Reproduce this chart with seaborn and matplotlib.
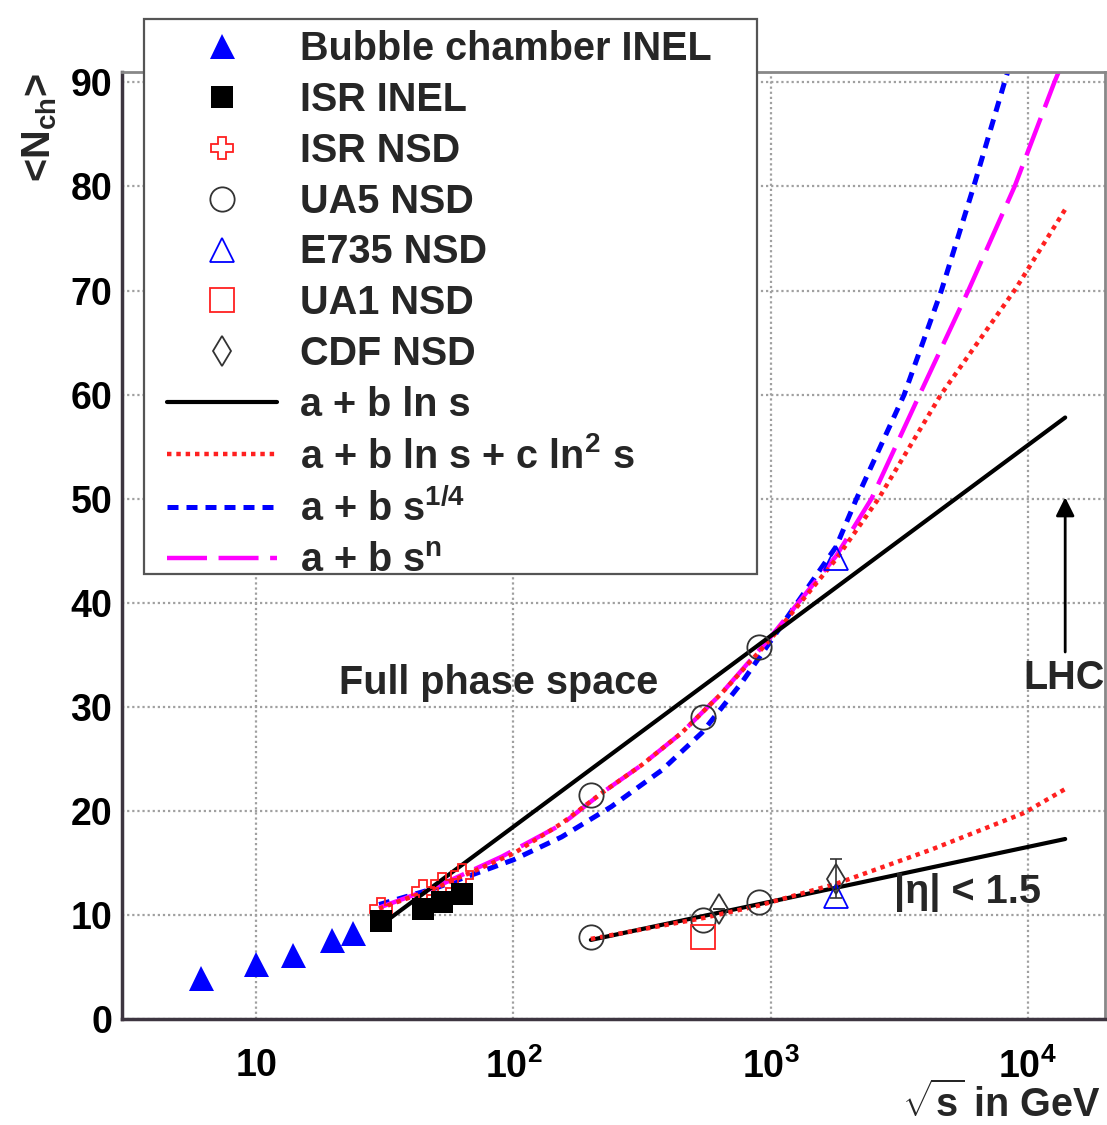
import numpy as np
import matplotlib
matplotlib.use("Agg")
import matplotlib.pyplot as plt
import matplotlib.ticker as ticker
from matplotlib.lines import Line2D
from matplotlib.patches import Rectangle
import seaborn as sns

# measured points: sqrt(s) in GeV, <Nch>
bubble_x = [6.1, 10.0, 13.9, 19.7, 23.8]
bubble_y = [3.9, 5.3, 6.2, 7.6, 8.3]
isr_x = [30.4, 44.5, 52.6, 62.8]
isr_inel_y = [9.4, 10.6, 11.2, 12.0]
isr_nsd_y = [10.6, 12.3, 13.0, 13.8]
ua5_x = [200, 546, 900]
ua5_full_y = [21.5, 29.0, 35.7]
ua5_eta_y = [7.9, 9.5, 11.2]
e735_x = [1800, 1800]
e735_y = [44.3, 11.8]
ua1_x = [546]
ua1_y = [7.9]
cdf_x = [630, 1800]
cdf_y = [10.6, 13.5]
cdf_err = [0.0, 1.9]

# fits, full phase space
lns_x = [30, 14000]
lns_y = [8.9, 57.8]
ln2s_x = [30, 50, 100, 154, 220, 315, 451, 645, 1000, 1800, 2630, 4600, 9000, 14000]
ln2s_y = [10.6, 12.6, 15.9, 18.8, 21.7, 24.4, 27.5, 31.3, 36.5, 44.2, 50.0, 60.0, 70.2, 77.8]
s14_x = [30, 50, 100, 154, 240, 377, 540, 771, 1000, 1800, 2160, 3310, 4620, 6170, 8130, 8600]
s14_y = [11.0, 12.6, 15.3, 17.5, 20.4, 23.9, 27.5, 32.3, 36.3, 45.4, 50.0, 60.0, 70.0, 80.0, 90.0, 92.0]
sn_x = [30, 50, 90, 154, 220, 315, 451, 645, 1000, 1800, 2470, 3800, 5880, 8900, 12700, 14000]
sn_y = [10.7, 12.7, 15.6, 18.7, 21.7, 24.4, 27.5, 31.3, 36.7, 44.5, 50.0, 60.0, 70.0, 80.0, 90.0, 92.5]

# fits, |eta| < 1.5
eta_lns_x = [200, 14000]
eta_lns_y = [7.6, 17.3]
eta_ln2s_x = [200, 546, 900, 1800, 4240, 9680, 14000]
eta_ln2s_y = [7.7, 9.7, 10.9, 13.0, 16.3, 19.8, 22.1]

x_ticks = [10, 100, 1000, 10000]
x_tick_labels = ["$10$", "$10^{2}$", "$10^{3}$", "$10^{4}$"]
y_ticks = [0, 10, 20, 30, 40, 50, 60, 70, 80, 90]

sns.set_theme(style="white")
plt.rcParams["font.family"] = ["Liberation Sans", "DejaVu Sans"]
plt.rcParams["font.weight"] = "bold"
plt.rcParams["mathtext.fontset"] = "custom"
plt.rcParams["mathtext.rm"] = "Liberation Sans:bold"
plt.rcParams["mathtext.it"] = "Liberation Sans:bold"
plt.rcParams["mathtext.bf"] = "Liberation Sans:bold"

FS = 28.5      # legend / annotation text
FS_TICK = 27
RED = "#ff2020"
dark = "#3d3540"

fig = plt.figure(figsize=(11.07, 11.25), dpi=100)
ax = fig.add_axes([0.1102, 0.0942, 0.888, 0.8418])

# fit curves
sty_lns = dict(color="black", lw=3, linestyle="-")
sty_ln2s = dict(color=RED, lw=3.2, linestyle=(0, (1, 1.1)))
sty_s14 = dict(color="blue", lw=3.6, linestyle=(0, (2.2, 1.6)))
sty_sn = dict(color="magenta", lw=3.2, linestyle=(0, (9, 2.6)))

sns.lineplot(x=s14_x, y=s14_y, ax=ax, **sty_s14)
sns.lineplot(x=sn_x, y=sn_y, ax=ax, **sty_sn)
sns.lineplot(x=ln2s_x, y=ln2s_y, ax=ax, **sty_ln2s)
sns.lineplot(x=lns_x, y=lns_y, ax=ax, **sty_lns)
sns.lineplot(x=eta_lns_x, y=eta_lns_y, ax=ax, **sty_lns)
sns.lineplot(x=eta_ln2s_x, y=eta_ln2s_y, ax=ax, **sty_ln2s)


def mk(marker, color, size, filled, ew=1.3):
    return dict(marker=marker, color=color, markersize=size,
                markerfacecolor=color if filled else "none",
                markeredgecolor=color, markeredgewidth=0 if filled else ew)


# data markers
m_bubble = mk("^", "blue", 18, True)
m_isr_inel = mk("s", "black", 16.5, True)
m_isr_nsd = mk("P", RED, 15.5, False)
m_ua5 = mk("o", "#333333", 17.5, False)
m_e735 = mk("^", "blue", 17, False)
m_ua1 = mk("s", RED, 17, False)
m_cdf = mk("d", "#333333", 15.5, False)

ax.errorbar(cdf_x, cdf_y, yerr=cdf_err, fmt="none", ecolor="#333333", elinewidth=1.2,
            capsize=4, capthick=1.2, zorder=3)
sns.lineplot(x=isr_x, y=isr_nsd_y, ax=ax, linestyle="none", **m_isr_nsd)
sns.lineplot(x=isr_x, y=isr_inel_y, ax=ax, linestyle="none", **m_isr_inel)
sns.lineplot(x=bubble_x, y=bubble_y, ax=ax, linestyle="none", **m_bubble)
sns.lineplot(x=ua5_x, y=ua5_full_y, ax=ax, linestyle="none", **m_ua5)
sns.lineplot(x=ua5_x, y=ua5_eta_y, ax=ax, linestyle="none", **m_ua5)
sns.lineplot(x=e735_x, y=e735_y, ax=ax, linestyle="none", estimator=None, **m_e735)
sns.lineplot(x=ua1_x, y=ua1_y, ax=ax, linestyle="none", **m_ua1)
sns.lineplot(x=cdf_x, y=cdf_y, ax=ax, linestyle="none", **m_cdf)

# axes
ax.set_xscale("log")
ax.set_xlim(3, 2e4)
ax.set_ylim(0, 91)
ax.set_xticks(x_ticks)
ax.set_xticklabels(x_tick_labels)
ax.xaxis.set_minor_locator(ticker.LogLocator(base=10, subs=np.arange(2, 10)))
ax.xaxis.set_minor_formatter(ticker.NullFormatter())
ax.set_yticks(y_ticks)
ax.yaxis.set_minor_locator(ticker.MultipleLocator(2))
ax.set_xlabel("")
ax.set_ylabel("")
ax.grid(True, which="major", color="#a0a0a0", linestyle=(0, (1, 1.3)), lw=1.6)

ax.tick_params(which="both", direction="in", top=False, right=False, colors=dark)
ax.tick_params(axis="y", which="major", length=16, width=2, pad=7, labelsize=FS_TICK,
               labelcolor="black")
ax.tick_params(axis="y", which="minor", length=10, width=1.8)
ax.tick_params(axis="x", which="major", length=22, width=2, pad=21, labelsize=FS_TICK,
               labelcolor="black")
ax.tick_params(axis="x", which="minor", length=10, width=1.8)
for lab in ax.get_xticklabels() + ax.get_yticklabels():
    lab.set_fontweight("bold")

for side in ["left", "bottom"]:
    ax.spines[side].set_color(dark)
    ax.spines[side].set_linewidth(2.5)
for side in ["top", "right"]:
    ax.spines[side].set_color("#888888")
    ax.spines[side].set_linewidth(2)

# annotations
ax.text(87.5, 32.3, "Full phase space", ha="center", va="center", fontsize=FS, fontweight="bold")
ax.text(3030, 12.2, "|η| < 1.5", ha="left", va="center", fontsize=FS, fontweight="bold")
ax.text(13800, 32.8, "LHC", ha="center", va="center", fontsize=FS, fontweight="bold")
ax.annotate("", xy=(14000, 50.4), xytext=(14000, 35.0),
            arrowprops=dict(arrowstyle="-|>", color="black", lw=2, mutation_scale=28))

fig.text(40 / 1107, 1 - 73 / 1125, r"<N$_{ch}$>", rotation=90, ha="center", va="top",
         fontsize=FS, fontweight="bold")
fig.text(1101 / 1107, 1 - 1104 / 1125, r"$\sqrt{s}$ in GeV", ha="right", va="center",
         fontsize=FS, fontweight="bold")

# legend
handles = [
    Line2D([], [], linestyle="none", **m_bubble),
    Line2D([], [], linestyle="none", **m_isr_inel),
    Line2D([], [], linestyle="none", **m_isr_nsd),
    Line2D([], [], linestyle="none", **m_ua5),
    Line2D([], [], linestyle="none", **m_e735),
    Line2D([], [], linestyle="none", **m_ua1),
    Line2D([], [], linestyle="none", **m_cdf),
    Line2D([], [], **sty_lns),
    Line2D([], [], **sty_ln2s),
    Line2D([], [], **sty_s14),
    Line2D([], [], **sty_sn),
]
labels = ["Bubble chamber INEL", "ISR INEL", "ISR NSD", "UA5 NSD", "E735 NSD", "UA1 NSD",
          "CDF NSD", "a + b ln s", r"a + b ln s + c ln$^{2}$ s", r"a + b s$^{1/4}$",
          r"a + b s$^{n}$"]

box = Rectangle((144 / 1107, 1 - 574 / 1125), (757 - 144) / 1107, (574 - 19) / 1125,
                transform=fig.transFigure, facecolor="white", edgecolor="#555555",
                lw=1.6, zorder=3)
fig.add_artist(box)
leg = fig.legend(handles=handles, labels=labels, loc="upper left",
                 bbox_to_anchor=(167 / 1107, 1 - 30 / 1125), bbox_transform=fig.transFigure,
                 frameon=False, borderpad=0, borderaxespad=0, handlelength=2.77,
                 handletextpad=0.58, labelspacing=0.325,
                 prop={"size": FS, "weight": "bold"}, numpoints=1)
leg.set_zorder(5)

fig.savefig("out.png", dpi=100)
